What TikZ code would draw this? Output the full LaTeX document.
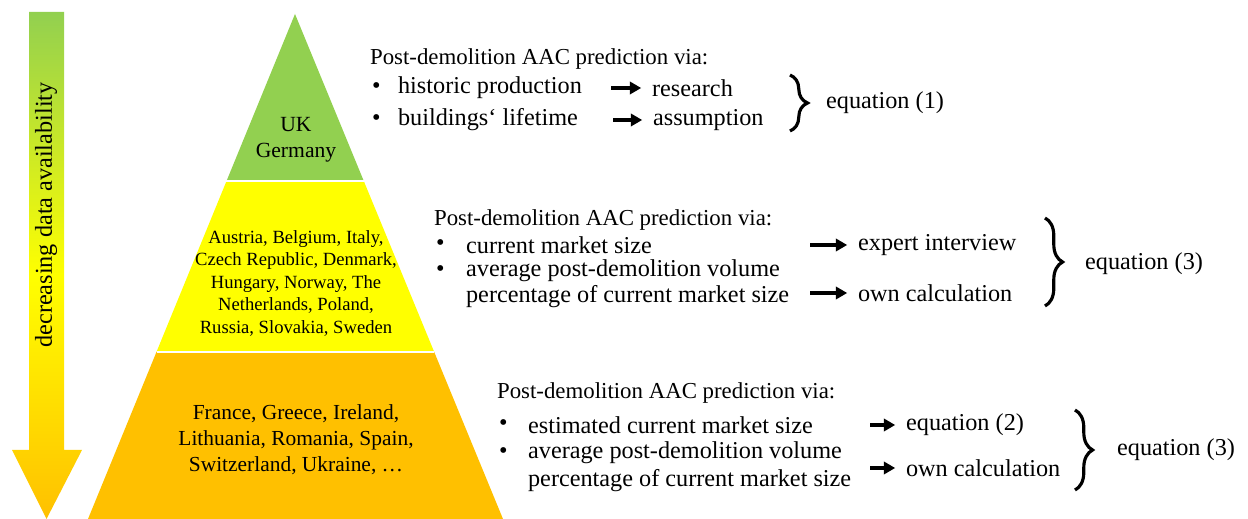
\documentclass[tikz,border=0pt]{standalone}
\usepackage{fontspec}
\setmainfont{Liberation Serif}
\usetikzlibrary{calc,arrows.meta,decorations.pathreplacing}
\definecolor{tiergreen}{HTML}{92D050}
\definecolor{tieryellow}{HTML}{FFFF00}
\definecolor{tierorange}{HTML}{FFC000}
\pgfdeclareverticalshading{availshade}{100bp}{color(0bp)=(tierorange); color(25bp)=(tierorange); color(32bp)=(tierorange!70!tieryellow); color(49bp)=(tieryellow); color(75bp)=(tiergreen); color(100bp)=(tiergreen)}
\tikzset{
  txt/.style={anchor=west, inner sep=1pt, font=\fontsize{13.8}{16}\selectfont},
  head/.style={txt, font=\fontsize{13}{16}\selectfont},
  land/.style={align=center, inner sep=1pt},
  arr/.style={-{Triangle[length=6.5pt,width=7pt]}, line width=2.3pt, shorten >=5pt},
  brc/.style={decorate, decoration={brace, amplitude=10pt, aspect=0.5}, line width=1.8pt},
}

\begin{document}
\begin{tikzpicture}[x=0.02cm, y=-0.02cm]
  \useasboundingbox (0,0) rectangle (1248,519);

  % left arrow
  \shade[shading=availshade]
    (29,12) -- (64,12) -- (64,450) -- (82,450) -- (46.5,519) -- (12,450) -- (29,450) -- cycle;
  \node[rotate=90, font=\fontsize{13.8}{16}\selectfont] (avail) at (46,215) {decreasing data availability};

  % pyramid
  \coordinate (apex) at (295,14);
  \coordinate (bl) at (88,519);
  \coordinate (br) at (503,519);
  \coordinate (l1) at ($(apex)!0.331!(bl)$);
  \coordinate (r1) at ($(apex)!0.331!(br)$);
  \coordinate (l2) at ($(apex)!0.669!(bl)$);
  \coordinate (r2) at ($(apex)!0.669!(br)$);
  \fill[tiergreen] (apex) -- (r1) -- (l1) -- cycle;
  \fill[tieryellow] (l1) -- (r1) -- (r2) -- (l2) -- cycle;
  \fill[tierorange] (l2) -- (r2) -- (br) -- (bl) -- cycle;
  \draw[white, line width=1.2pt] (l1) -- (r1) (l2) -- (r2);

  \node[land, font=\fontsize{12.3}{14.7}\selectfont] (top) at (296,140) {UK\\Germany};
  \node[land, font=\fontsize{10.6}{12.8}\selectfont] (mid) at (296,283)
    {Austria, Belgium, Italy,\\Czech Republic, Denmark,\\Hungary, Norway, The\\Netherlands, Poland,\\Russia, Slovakia, Sweden};
  \node[land, font=\fontsize{12.2}{14.7}\selectfont] (low) at (296,440)
    {France, Greece, Ireland,\\Lithuania, Romania, Spain,\\Switzerland, Ukraine, \dots};

  % block 1
  \node[head] (h1) at (368,59) {Post-demolition AAC prediction via:};
  \node[txt] (b11) at (370,88) {•};
  \node[txt] (t11) at (396,88) {historic production};
  \node[txt] (b12) at (370,120) {•};
  \node[txt] (t12) at (396,120) {buildings‘ lifetime};
  \node[txt] (r11) at (650,88) {research};
  \node[txt] (r12) at (651,120) {assumption};
  \coordinate (a11) at (611,88);
  \coordinate (a12) at (613,120);
  \draw[arr] (a11) -- (r11);
  \draw[arr] (a12) -- (r12);
  \coordinate (c1t) at (790,75);
  \coordinate (c1b) at (790,131);
  \draw[brc] (c1t) -- (c1b);
  \node[txt] (e1) at (824,103) {equation (1)};

  % block 2
  \node[head] (h2) at (432,220) {Post-demolition AAC prediction via:};
  \node[txt] (b21) at (434,245) {•};
  \node[txt] (t21) at (464,245) {current market size};
  \node[txt] (b22) at (434,271) {•};
  \node[txt] (t22) at (464,271) {average post-demolition volume};
  \node[txt] (t23) at (464,297) {percentage of current market size};
  \node[txt] (r21) at (856,245) {expert interview};
  \node[txt] (r22) at (856,293) {own calculation};
  \coordinate (a21) at (810,245);
  \coordinate (a22) at (810,293);
  \draw[arr] (a21) -- (r21);
  \draw[arr] (a22) -- (r22);
  \coordinate (c2t) at (1045,218);
  \coordinate (c2b) at (1045,306);
  \draw[brc] (c2t) -- (c2b);
  \node[txt] (e2) at (1083,264) {equation (3)};

  % block 3
  \node[head] (h3) at (495,393) {Post-demolition AAC prediction via:};
  \node[txt] (b31) at (497,425) {•};
  \node[txt] (t31) at (526,425) {estimated current market size};
  \node[txt] (b32) at (497,453) {•};
  \node[txt] (t32) at (526,453) {average post-demolition volume};
  \node[txt] (t33) at (526,481) {percentage of current market size};
  \node[txt] (r31) at (904,425) {equation (2)};
  \node[txt] (r32) at (904,468) {own calculation};
  \coordinate (a31) at (870,425);
  \coordinate (a32) at (870,468);
  \draw[arr] (a31) -- (r31);
  \draw[arr] (a32) -- (r32);
  \coordinate (c3t) at (1075,410);
  \coordinate (c3b) at (1075,490);
  \draw[brc] (c3t) -- (c3b);
  \node[txt] (e3) at (1115,450) {equation (3)};
\end{tikzpicture}
\end{document}
